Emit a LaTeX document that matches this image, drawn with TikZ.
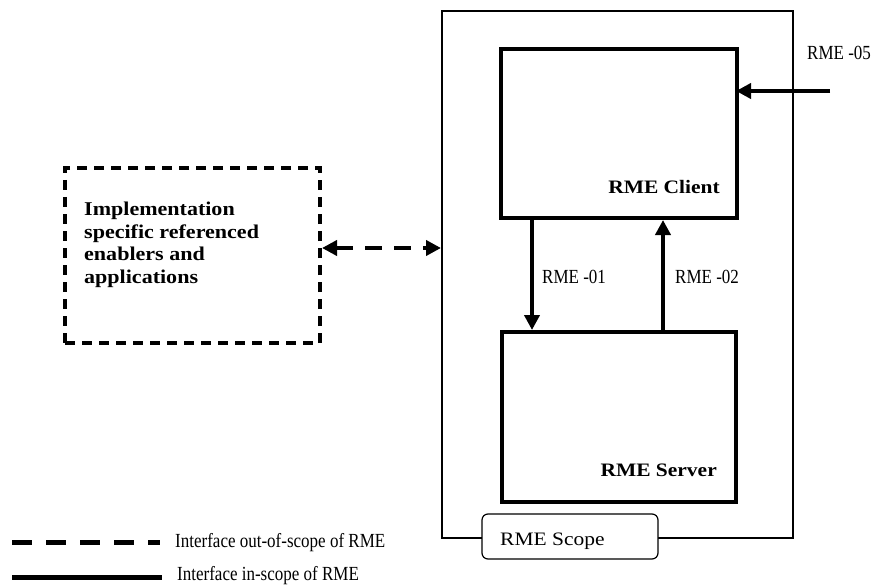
\documentclass[tikz,border=0pt]{standalone}
\usepackage{fontspec}
\setmainfont{Liberation Serif}
\newfontfamily\narrowserif[FakeStretch=0.85]{Liberation Serif}
\newfontfamily\wideserif[FakeStretch=1.13]{Liberation Serif}
\usetikzlibrary{arrows.meta}
\begin{document}
\begin{tikzpicture}[x=1pt,y=-1pt,
  thickbox/.style={draw, line width=4pt, minimum width=#1, inner sep=0pt},
  outerbox/.style={draw, line width=2pt, inner sep=0pt},
  dashbox/.style={draw, line width=4pt, dash pattern=on 10pt off 7pt, inner sep=0pt},
  scopetag/.style={draw, fill=white, line width=1.2pt, rounded corners=6pt, inner sep=0pt,
    minimum width=176pt, minimum height=45pt},
  arr/.style={line width=4pt, -{Triangle[length=15pt,width=15pt]}},
  darr/.style={line width=4pt, dash pattern=on 17pt off 12pt,
    {Triangle[length=15pt,width=15pt]}-{Triangle[length=15pt,width=15pt]}},
  lbl/.style={font=\narrowserif\fontsize{20}{22}\selectfont, inner sep=0pt},
  blbl/.style={font=\wideserif\fontsize{19}{23}\selectfont\bfseries, inner sep=0pt},
]
\useasboundingbox[fill=white] (0,0) rectangle (874,585);

% boxes
\node[outerbox, minimum width=351pt, minimum height=527pt] (scope) at (617.5,274.5) {};
\node[thickbox=236pt, minimum height=169pt] (client) at (619,133.5) {};
\node[thickbox=234pt, minimum height=170pt] (server) at (619,417) {};
\node[dashbox, minimum width=255pt, minimum height=175pt] (impl) at (192.5,255.5) {};
\node[scopetag] (tag) at (570,536.5) {};
\node[font=\wideserif\fontsize{19}{23}\selectfont, anchor=base west, inner sep=0pt] (tagtxt) at (500,545) {RME Scope};

% box titles
\node[blbl, anchor=base east] (clienttxt) at (720,194) {RME Client};
\node[blbl, anchor=base east] (servertxt) at (717,476) {RME Server};
\node[blbl, anchor=north west, align=left, font=\wideserif\fontsize{19.5}{22.5}\selectfont\bfseries]
  (impltxt) at (84,202) {Implementation\\specific referenced\\enablers and\\applications};

% interfaces
\coordinate (x01) at (532,0);
\coordinate (x02) at (663,0);
\coordinate (in05) at (830,91);
\coordinate (ydash) at (0,248);
\draw[arr] (client.south -| x01) -- (server.north -| x01);
\draw[arr] (server.north -| x02) -- (client.south -| x02);
\draw[arr, shorten >=-3pt] (in05) -- (client.east |- in05);
\draw[darr] (impl.east |- ydash) -- (scope.west |- ydash);

\node[lbl, anchor=base west] (l01) at (542,283) {RME -01};
\node[lbl, anchor=base west] (l02) at (675,283) {RME -02};
\node[lbl, anchor=base west] (l05) at (807,60) {RME -05};

% legend
\coordinate (la1) at (12,542);
\coordinate (la2) at (160,542);
\coordinate (lb1) at (12,577);
\coordinate (lb2) at (162,577);
\draw[line width=5pt, dash pattern=on 20pt off 14pt] (la1) -- (la2);
\draw[line width=5pt] (lb1) -- (lb2);
\node[lbl, anchor=base west] (lega) at (175,547) {Interface out-of-scope of RME};
\node[lbl, anchor=base west] (legb) at (177,580) {Interface in-scope of RME};
\end{tikzpicture}
\end{document}
